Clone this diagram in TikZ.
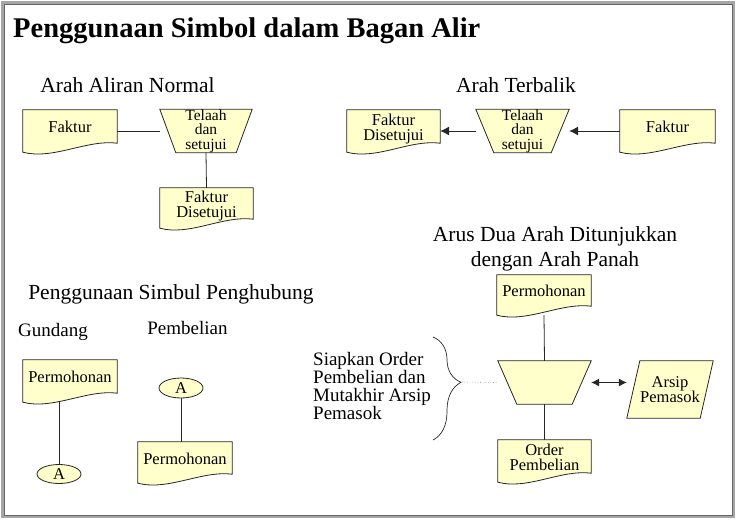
\documentclass[tikz,border=0pt]{standalone}
\usepackage{fontspec}
\setmainfont{Liberation Serif}
\usetikzlibrary{calc,backgrounds,arrows.meta,shapes.geometric,decorations.pathreplacing}
\definecolor{kuning}{RGB}{255,255,204}
\tikzset{
  garis/.style={draw=black!85, line width=0.8pt},
  panah/.style={garis, -{Latex[length=9pt,width=9pt]}},
  sym/.style={inner sep=0pt, align=center, font=\fontsize{16.5}{15}\selectfont},
  doc/.style={sym, minimum width=94pt, minimum height=42pt, text depth=8pt},
  trap/.style={sym, minimum width=92pt, minimum height=42pt, font=\fontsize{15.5}{14.5}\selectfont},
  konektor/.style={sym, ellipse, garis, fill=kuning, minimum width=44pt, minimum height=19pt},
  judul/.style={anchor=base, font=\fontsize{21.5}{25}\selectfont},
  label/.style={anchor=base, font=\fontsize{19}{18}\selectfont},
}
% outline of a document symbol
\newcommand{\docout}[1]{%
  \filldraw[garis, fill=kuning] (#1.north west) -- (#1.north east) -- ([yshift=9pt]#1.south east)
    .. controls ([xshift=-30pt,yshift=13pt]#1.south east) and ([xshift=30pt,yshift=-8pt]#1.south west) .. (#1.south west) -- cycle;}
% outline of a manual operation symbol
\newcommand{\trapout}[2]{%
  \filldraw[garis, fill=kuning] (#1.north west) -- (#1.north east) -- ([xshift=-#2]#1.south east) -- ([xshift=#2]#1.south west) -- cycle;}

\begin{document}
\begin{tikzpicture}[x=1pt, y=-1pt]
\useasboundingbox (0,0) rectangle (737,522);
\draw[gray!70, line width=2.5pt] (2.5,2.5) rectangle (734,517);
\draw[black!60, line width=0.6pt] (4.5,4.5) rectangle (732,515);

\node[anchor=base west, inner sep=0pt, font=\bfseries\fontsize{28.5}{30}\selectfont] (judul) at (13,37) {Penggunaan Simbol dalam Bagan Alir};

% arah aliran normal
\node[judul] (normal) at (127.5,92) {Arah Aliran Normal};
\node[doc] (fakA) at (70,131) {Faktur};
\node[trap] (telA) at (206,131) {Telaah\\dan\\setujui};
\node[doc, minimum width=93pt, minimum height=40pt] (disA) at (206.5,208) {Faktur\\Disetujui};
\draw[garis] (fakA.east) -- (telA.west);
\draw[garis] (telA.south) -- (disA.north);

% arah terbalik
\node[judul] (balik) at (516,92) {Arah Terbalik};
\node[doc, minimum width=93pt] (disB) at (393.5,131) {Faktur\\Disetujui};
\node[trap, minimum width=93pt] (telB) at (522.5,131) {Telaah\\dan\\setujui};
\node[doc, minimum width=95pt] (fakB) at (667.5,131) {Faktur};
\draw[panah] (telB.west) -- (disB.east);
\draw[panah] (fakB.west) -- (telB.east);

% arus dua arah
\node[judul, anchor=center, align=center] (dua) at (555,249) {Arus Dua Arah Ditunjukkan\\dengan Arah Panah};
\node[doc, minimum height=40pt] (permC) at (544,295) {Permohonan};
\node[trap, minimum width=93pt, minimum height=43pt] (proC) at (544.5,382.5) {};
\node[doc, minimum width=93pt] (ordC) at (544.5,461) {Order\\Pembelian};
\node[sym, minimum width=86pt, minimum height=57pt] (arsip) at (670,389.5) {Arsip\\Pemasok};
\draw[garis] (permC.south) -- (proC.north);
\draw[garis] (proC.south) -- (ordC.north);
\draw[garis, {Latex[length=8pt,width=8pt]}-{Latex[length=8pt,width=8pt]}] (proC.east) -- (proC.east -| arsip.west);
\node[label, anchor=west, align=left, inner sep=0pt] (siap) at (313,386) {Siapkan Order\\Pembelian dan\\Mutakhir Arsip\\Pemasok};
\coordinate (brAtas) at (433,337);
\coordinate (brBawah) at (433,440);
\coordinate (brUjung) at (462,382);
\draw[garis, line width=0.7pt, decorate, decoration={brace, amplitude=28pt, aspect=0.44}] (brAtas) -- (brBawah);
\draw[gray, line width=0.6pt, dotted] (brUjung) -- (proC.west);

% simbol penghubung
\node[judul] (hubung) at (171,299) {Penggunaan Simbul Penghubung};
\node[label] (gudang) at (53,336) {Gundang};
\node[label] (beli) at (187.5,334) {Pembelian};
\node[doc] (permD) at (70,381) {Permohonan};
\node[konektor] (conD) at (59,474) {A};
\node[konektor, minimum height=20pt] (conE) at (181,388) {A};
\node[doc, minimum height=41pt] (permE) at (185,462.5) {Permohonan};
\draw[garis] (permD.south -| conD.north) -- (conD.north);
\draw[garis] (conE.south) -- (conE.south |- permE.north);

\begin{scope}[on background layer]
\docout{fakA} \docout{disA} \docout{disB} \docout{fakB}
\docout{permC} \docout{ordC} \docout{permD} \docout{permE}
\trapout{telA}{16pt} \trapout{telB}{18pt} \trapout{proC}{19pt}
\filldraw[garis, fill=kuning] ([xshift=13pt]arsip.north west) -- (arsip.north east) -- ([xshift=-13pt]arsip.south east) -- (arsip.south west) -- cycle;
\end{scope}
\end{tikzpicture}
\end{document}
